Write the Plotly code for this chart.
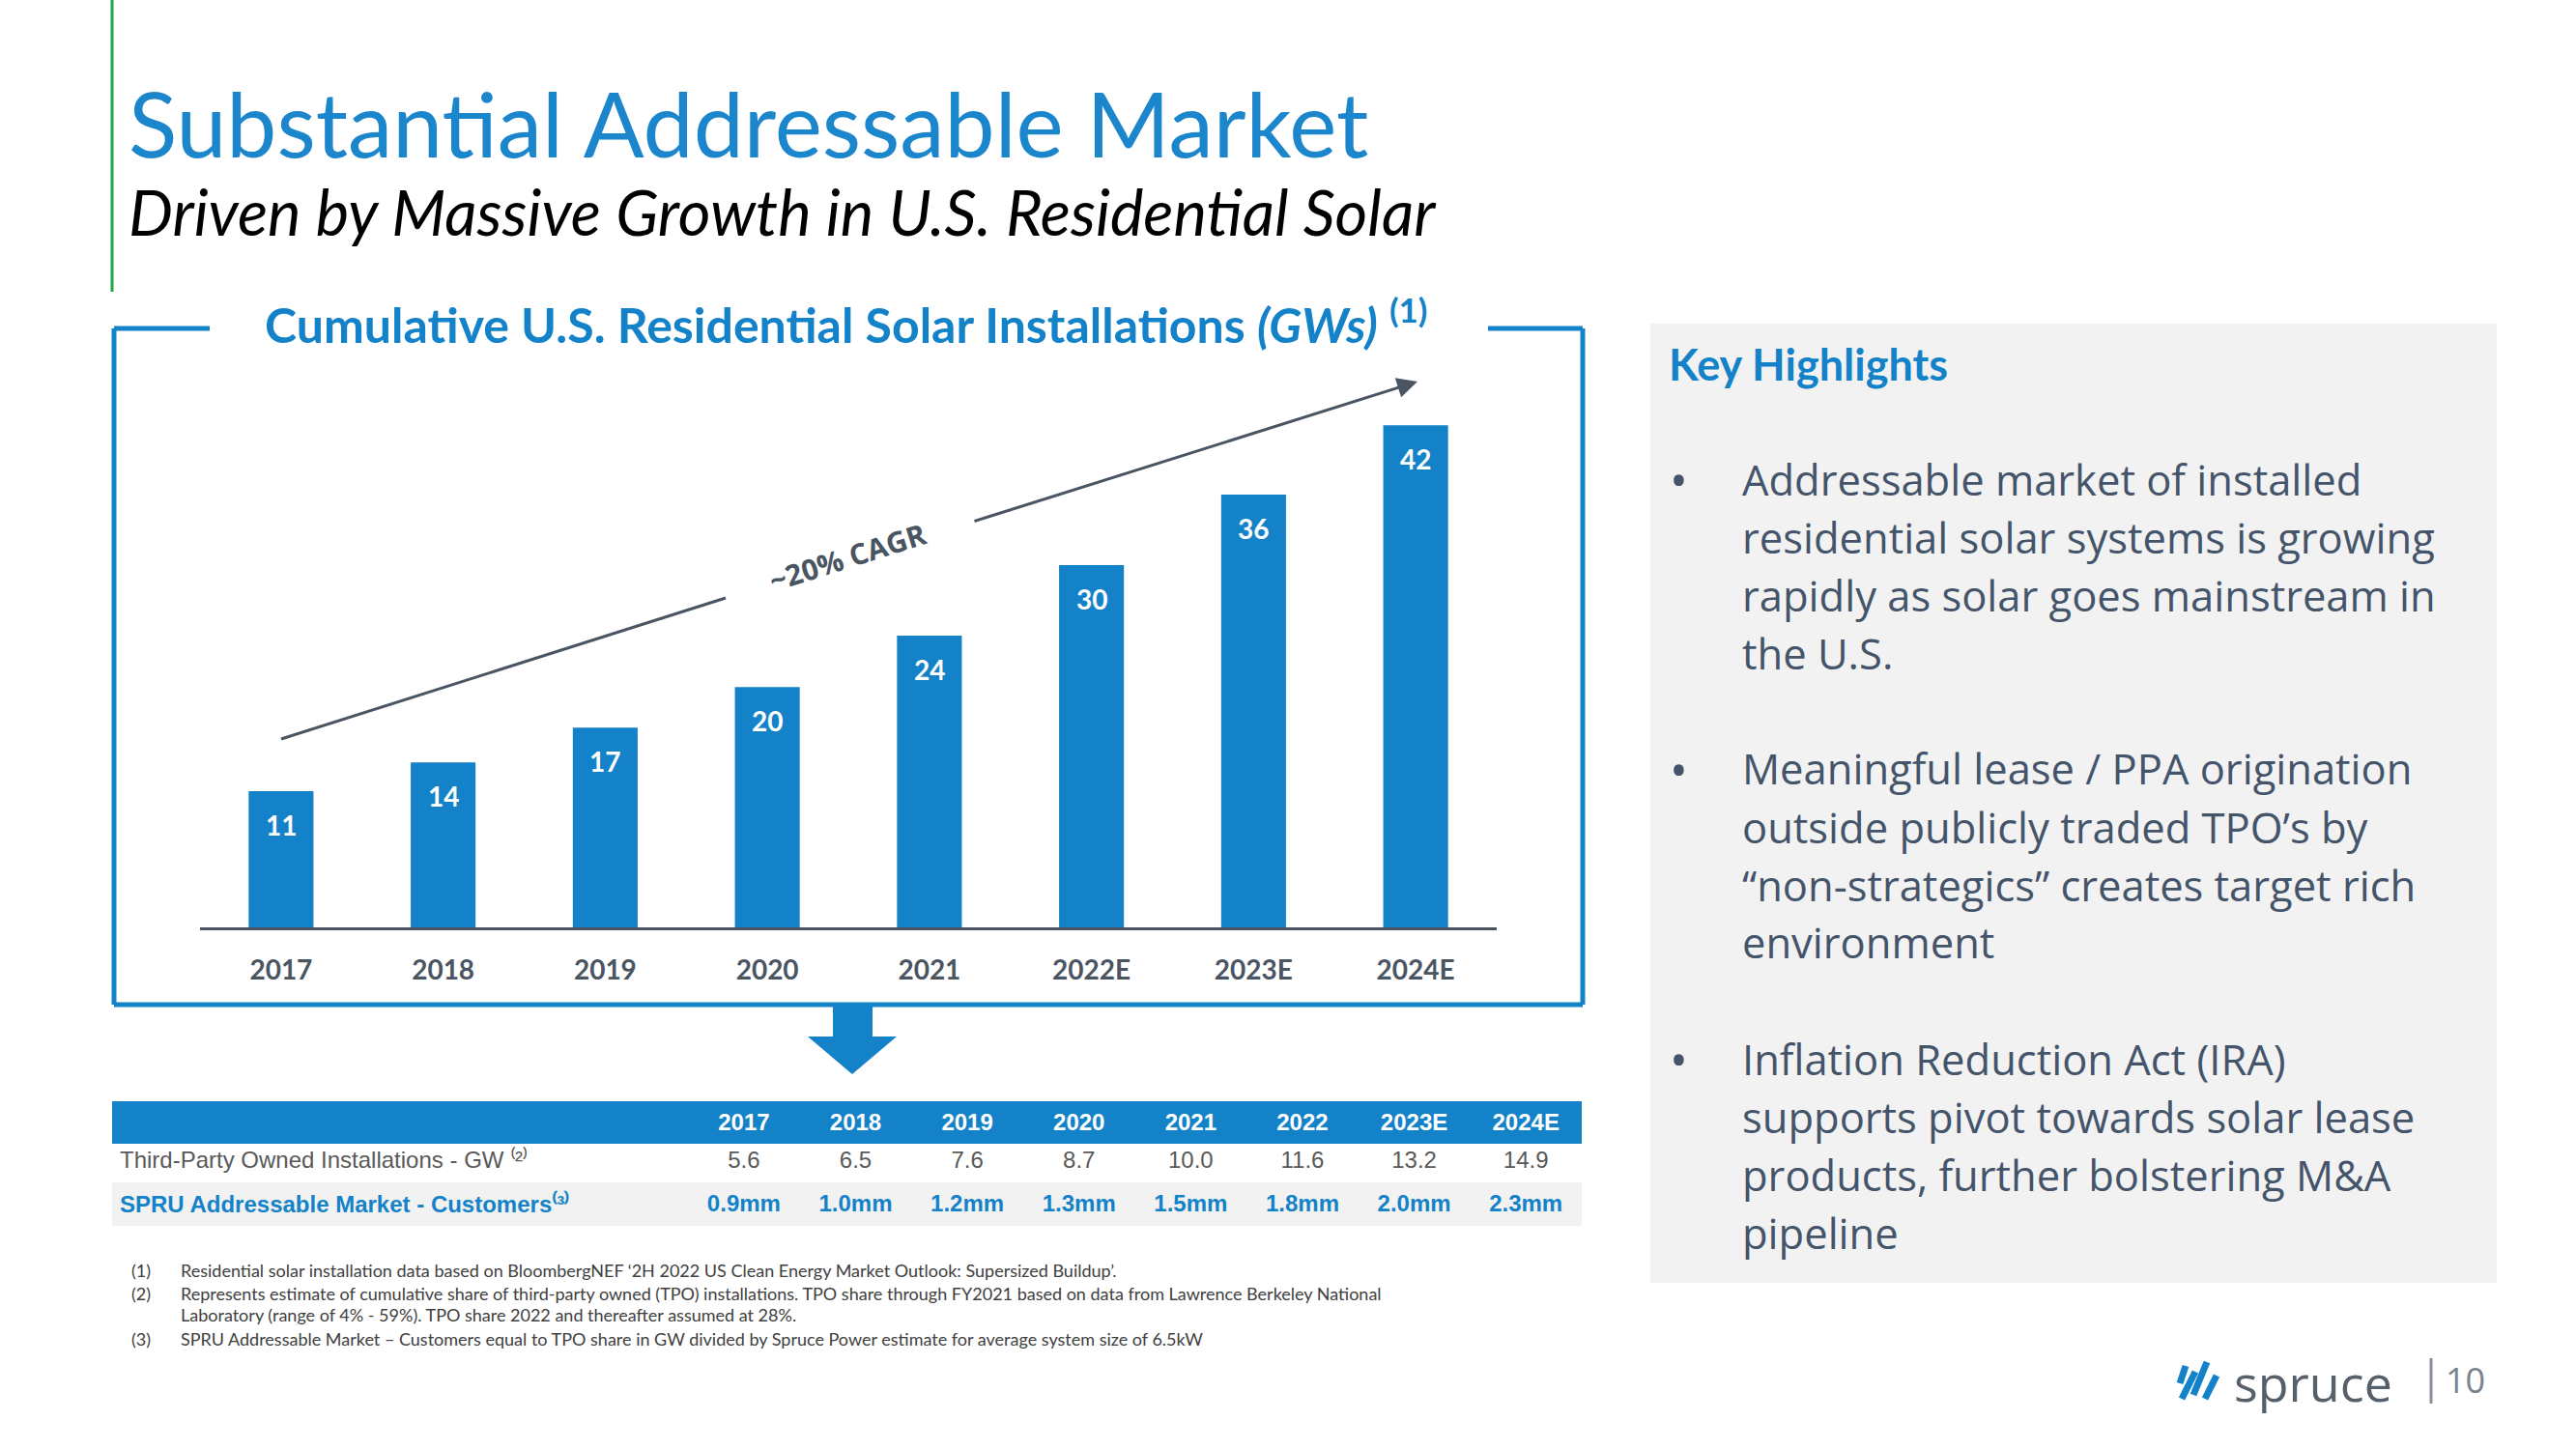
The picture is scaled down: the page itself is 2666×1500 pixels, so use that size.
import plotly.graph_objects as go

W, H = 2666, 1500


def px(x):
    return x / W


def py(y):
    return 1 - y / H


BLUE = "#1482C8"
GRAY = "#4A5562"
TEXT2 = "#44546A"
GREEN = "#21A54A"

# ---------------- data ----------------
years = ["2017", "2018", "2019", "2020", "2021", "2022E", "2023E", "2024E"]
installs_gw = [11.4, 13.8, 16.7, 20.1, 24.4, 30.3, 36.2, 42.0]
bar_labels = ["11", "14", "17", "20", "24", "30", "36", "42"]

table_years = ["2017", "2018", "2019", "2020", "2021", "2022", "2023E", "2024E"]
tpo_gw = [5.6, 6.5, 7.6, 8.7, 10.0, 11.6, 13.2, 14.9]
spru_customers_mm = [0.9, 1.0, 1.2, 1.3, 1.5, 1.8, 2.0, 2.3]
row_labels = ["Third-Party Owned Installations - GW ⁽²⁾",
              "<b>SPRU Addressable Market - Customers⁽³⁾</b>"]

cagr_label = "~20% CAGR"

highlights = [
    ["Addressable market of installed",
     "residential solar systems is growing",
     "rapidly as solar goes mainstream in",
     "the U.S."],
    ["Meaningful lease / PPA origination",
     "outside publicly traded TPO’s by",
     "“non-strategics” creates target rich",
     "environment"],
    ["Inflation Reduction Act (IRA)",
     "supports pivot towards solar lease",
     "products, further bolstering M&A",
     "pipeline"],
]

footnotes = [
    ("(1)", ["Residential solar installation data based on BloombergNEF ‘2H 2022 US Clean Energy Market Outlook: Supersized Buildup’."]),
    ("(2)", ["Represents estimate of cumulative share of third-party owned (TPO) installations. TPO share through FY2021 based on data from Lawrence Berkeley National",
             "Laboratory (range of 4% - 59%). TPO share 2022 and thereafter assumed at 28%."]),
    ("(3)", ["SPRU Addressable Market – Customers equal to TPO share in GW divided by Spruce Power estimate for average system size of 6.5kW"]),
]

fig = go.Figure()

# ---------------- bar chart ----------------
fig.add_trace(go.Bar(
    x=years, y=installs_gw, width=0.4,
    marker=dict(color=BLUE, line=dict(width=0)),
    hoverinfo="skip", showlegend=False,
))

# ---------------- table ----------------
header_vals = [""] + [f"<b>{y}</b>" for y in table_years]
cell_cols = [row_labels] + [[f"{t:.1f}", f"<b>{c:.1f}mm</b>"] for t, c in zip(tpo_gw, spru_customers_mm)]
ncol = len(cell_cols)
fig.add_trace(go.Table(
    domain=dict(x=[px(116), px(1637)], y=[py(1330), py(1140)]),
    columnwidth=[596] + [115.6] * 8,
    header=dict(values=header_vals, height=40,
                fill=dict(color=BLUE), line=dict(color=BLUE, width=1),
                align=["left"] + ["center"] * 8,
                font=dict(family="Liberation Sans", size=24, color="white")),
    cells=dict(values=cell_cols, height=41,
               fill=dict(color=[["white", "#F2F2F2"]] * ncol),
               line=dict(color=[["white", "#F2F2F2"]] * ncol, width=1),
               align=["left"] + ["center"] * 8,
               font=dict(family="Liberation Sans", size=24,
                         color=[["#595959", BLUE]] * ncol)),
))

shapes = []
annotations = []

# green accent line
shapes.append(dict(type="line", xref="paper", yref="paper",
                   x0=px(116), x1=px(116), y0=py(0), y1=py(302),
                   line=dict(color=GREEN, width=3)))

# chart frame
frame = dict(color=BLUE, width=5)
for (x0, y0, x1, y1) in [(118, 340, 118, 1040), (118, 1040, 1638, 1040),
                         (1638, 340, 1638, 1040), (118, 340, 217, 340),
                         (1540, 340, 1638, 340)]:
    shapes.append(dict(type="line", xref="paper", yref="paper",
                       x0=px(x0), x1=px(x1), y0=py(y0), y1=py(y1), line=frame))

# down block arrow
pts = [(862, 1040), (903, 1040), (903, 1073), (928, 1073), (882, 1112),
       (836, 1073), (862, 1073)]
path = "M " + " L ".join(f"{px(x)},{py(y)}" for x, y in pts) + " Z"
shapes.append(dict(type="path", xref="paper", yref="paper", path=path,
                   fillcolor=BLUE, line=dict(width=0)))

# key highlights panel
shapes.append(dict(type="rect", xref="paper", yref="paper", layer="below",
                   x0=px(1708), x1=px(2584), y0=py(1328), y1=py(335),
                   fillcolor="#F2F2F2", line=dict(width=0)))

# CAGR trend line (two segments with gap)
shapes.append(dict(type="line", xref="paper", yref="paper",
                   x0=px(291), y0=py(765), x1=px(751), y1=py(619),
                   line=dict(color=GRAY, width=3)))
annotations.append(dict(xref="paper", yref="paper", x=px(1467), y=py(395),
                        ax=1007 - 1467, ay=540 - 395, text="", showarrow=True,
                        arrowhead=2, arrowsize=1.4, arrowwidth=3, arrowcolor=GRAY,
                        standoff=0))
annotations.append(dict(xref="paper", yref="paper", x=px(877), y=py(576),
                        xanchor="center", yanchor="middle",
                        text=f"<b>{cagr_label}</b>", showarrow=False, textangle=-17.5,
                        font=dict(family="Open Sans", size=30, color=GRAY)))

# bar value labels (category index positions)
for idx, (v, lab) in enumerate(zip(installs_gw, bar_labels)):
    annotations.append(dict(xref="x", yref="y", x=idx, y=v, yshift=-35,
                            xanchor="center", yanchor="middle",
                            text=f"<b>{lab}</b>", showarrow=False,
                            font=dict(family="Lato", size=28, color="white")))

# titles
annotations.append(dict(xref="paper", yref="paper", x=px(131), y=py(127),
                        xanchor="left", yanchor="middle", showarrow=False,
                        text="Substantial Addressable Market",
                        font=dict(family="Lato", size=93, color="#1C86CC")))
annotations.append(dict(xref="paper", yref="paper", x=px(131), y=py(219),
                        xanchor="left", yanchor="middle", showarrow=False,
                        text="<i>Driven by Massive Growth in U.S. Residential Solar</i>",
                        font=dict(family="Lato", size=65, color="black")))
annotations.append(dict(xref="paper", yref="paper", x=px(272), y=py(332),
                        xanchor="left", yanchor="middle", showarrow=False,
                        text="<b>Cumulative U.S. Residential Solar Installations <i>(GWs)</i> <sup>(1)</sup></b>",
                        font=dict(family="Lato", size=50, color=BLUE)))

# key highlights
annotations.append(dict(xref="paper", yref="paper", x=px(1725), y=py(377),
                        xanchor="left", yanchor="middle", showarrow=False,
                        text="<b>Key Highlights</b>",
                        font=dict(family="Lato", size=45, color=BLUE)))
k = 0
for bullet in highlights:
    annotations.append(dict(xref="paper", yref="paper", x=px(1737), y=py(496 + 60 * k),
                            xanchor="center", yanchor="middle", showarrow=False,
                            text="•", font=dict(family="Open Sans", size=50, color=TEXT2)))
    for line in bullet:
        annotations.append(dict(xref="paper", yref="paper", x=px(1801), y=py(496 + 60 * k),
                                xanchor="left", yanchor="middle", showarrow=False,
                                text=line, font=dict(family="Open Sans", size=43.5, color=TEXT2)))
        k += 1
    k += 1

# footnotes
fy = [1315, 1339, 1361, 1386]
i = 0
for num, lines in footnotes:
    annotations.append(dict(xref="paper", yref="paper", x=px(134), y=py(fy[i]),
                            xanchor="left", yanchor="middle", showarrow=False,
                            text=num, font=dict(family="Lato", size=18, color="#404040")))
    for line in lines:
        annotations.append(dict(xref="paper", yref="paper", x=px(185), y=py(fy[i]),
                                xanchor="left", yanchor="middle", showarrow=False,
                                text=line, font=dict(family="Lato", size=18, color="#404040")))
        i += 1

# logo & page number
for (x0, y0, x1, y1) in [(2256, 1432, 2262, 1414), (2258, 1448, 2272, 1420),
                         (2270, 1444, 2284, 1410), (2282, 1448, 2294, 1424)]:
    shapes.append(dict(type="line", xref="paper", yref="paper",
                       x0=px(x0), y0=py(y0), x1=px(x1), y1=py(y1),
                       line=dict(color=BLUE, width=7)))
annotations.append(dict(xref="paper", yref="paper", x=px(2310), y=py(1430),
                        xanchor="left", yanchor="middle", showarrow=False,
                        text="spruce", font=dict(family="Open Sans", size=52, color="#56606B")))
shapes.append(dict(type="line", xref="paper", yref="paper",
                   x0=px(2516), x1=px(2516), y0=py(1406), y1=py(1453),
                   line=dict(color="#8A9099", width=3)))
annotations.append(dict(xref="paper", yref="paper", x=px(2529), y=py(1428),
                        xanchor="left", yanchor="middle", showarrow=False,
                        text="10", font=dict(family="Open Sans", size=36, color="#7A828C")))

fig.update_layout(
    width=W, height=H, margin=dict(l=0, r=0, t=0, b=0),
    paper_bgcolor="white", plot_bgcolor="white",
    showlegend=False, bargap=0.6,
    xaxis=dict(domain=[px(207), px(1549)], type="category", range=[-0.5, 7.5],
               showgrid=False, zeroline=False, showline=True, linewidth=3,
               linecolor=GRAY, ticks="", ticklabelstandoff=17,
               tickfont=dict(family="Lato", size=28, color=GRAY, weight="bold"),
               fixedrange=True),
    yaxis=dict(domain=[py(960), py(403)], range=[0, 45], visible=False,
               showgrid=False, zeroline=False, fixedrange=True),
    shapes=shapes, annotations=annotations,
)

fig.write_html("out.html", config={"displayModeBar": False},
               post_script="document.body.style.margin='0px';document.body.style.padding='0px';")
